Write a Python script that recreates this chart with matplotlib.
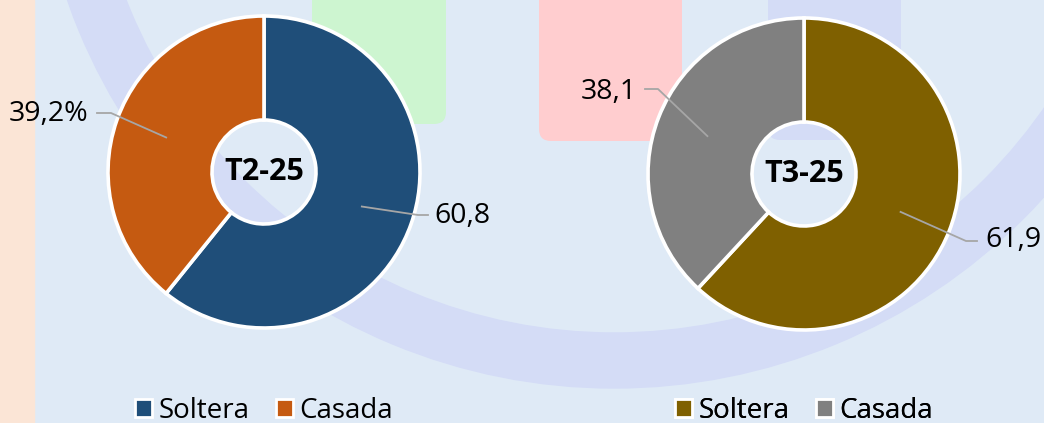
import matplotlib.pyplot as plt
from matplotlib.patches import Rectangle, FancyBboxPatch, Wedge, Patch
import numpy as np

plt.rcParams['font.family'] = ['Open Sans', 'DejaVu Sans']

# datos
periodos = ["T2-25", "T3-25"]
categorias = ["Soltera", "Casada"]
soltera = [60.8, 61.9]
casada = [39.2, 38.1]
sufijo_casada = ["%", ""]
colores = [["#1f4e79", "#c55a11"], ["#7f6000", "#808080"]]

W, H = 1044, 423
def fy(y):
    # coordenadas de imagen -> coordenadas de matplotlib
    return H - y

fig = plt.figure(figsize=(W / 100, H / 100), dpi=100)
ax = fig.add_axes([0, 0, 1, 1])
fondo = "#dfeaf6"
fig.patch.set_facecolor(fondo)
ax.set_facecolor(fondo)

# decoracion de fondo
lavanda = "#d4dcf6"
ax.add_patch(Rectangle((0, 0), 34, H, color="#fbe5d6", zorder=0))
ax.add_patch(Wedge((614, fy(-191)), 579, 0, 360, width=55, color=lavanda, zorder=0))
for x0, x1, y1, c in [(312, 446, 124, "#cdf5d0"), (539, 682, 141, "#ffcdcf"),
                      (768, 901, 140, lavanda)]:
    ax.add_patch(FancyBboxPatch((x0, fy(y1)), x1 - x0, y1 + 30,
                                boxstyle="round,pad=0,rounding_size=12",
                                color=c, lw=0, zorder=0))

centros = [(264, fy(172)), (804, fy(174))]
radio = 156
hueco = 52
# posiciones de las etiquetas: (codo, fin de linea, texto, alineacion)
pos_soltera = [((418, 215), (428, 215), (434, 216), "left"),
               ((966, 241), (977, 241), (985, 240), "left")]
pos_casada = [((111, 113), (97, 113), (88, 114), "right"),
              ((658, 89), (645, 89), (637, 92), "right")]

for i in range(2):
    cx, cy = centros[i]
    valores = [soltera[i], casada[i]]
    wedges, _ = ax.pie(valores, colors=colores[i], startangle=90, counterclock=False,
                       center=(cx, cy), radius=radio,
                       wedgeprops=dict(width=radio - hueco, edgecolor="white", linewidth=2.6))
    ax.text(cx, cy, periodos[i], ha="center", va="center", fontsize=22,
            fontweight="bold", color="black")

    textos = [f"{soltera[i]:.1f}".replace(".", ","),
              f"{casada[i]:.1f}".replace(".", ",") + sufijo_casada[i]]
    for w, txt, pos in zip(wedges, textos, [pos_soltera[i], pos_casada[i]]):
        ang = np.deg2rad((w.theta1 + w.theta2) / 2)
        r_anc = radio * 0.665
        ax_x = cx + r_anc * np.cos(ang)
        ax_y = cy + r_anc * np.sin(ang)
        codo, fin, ptxt, ha = pos
        ax.plot([ax_x, codo[0], fin[0]], [ax_y, fy(codo[1]), fy(fin[1])],
                color="#a6a6a6", lw=1.3, zorder=5)
        ax.text(ptxt[0], fy(ptxt[1]), txt, ha=ha, va="center", fontsize=20.5,
                color="black")

    handles = [Patch(facecolor=c, edgecolor="white", linewidth=2) for c in colores[i]]
    leg = ax.legend(handles, categorias, loc="center", ncol=2,
                    bbox_to_anchor=(cx / W, fy(411) / H), frameon=False,
                    fontsize=20, handlelength=0.6, handleheight=0.6,
                    handletextpad=0.25, columnspacing=0.95, borderaxespad=0)
    ax.add_artist(leg)

ax.set_xlim(0, W)
ax.set_ylim(0, H)
ax.set_aspect("auto")
ax.axis("off")
fig.savefig("out.png", dpi=100, facecolor=fondo)
